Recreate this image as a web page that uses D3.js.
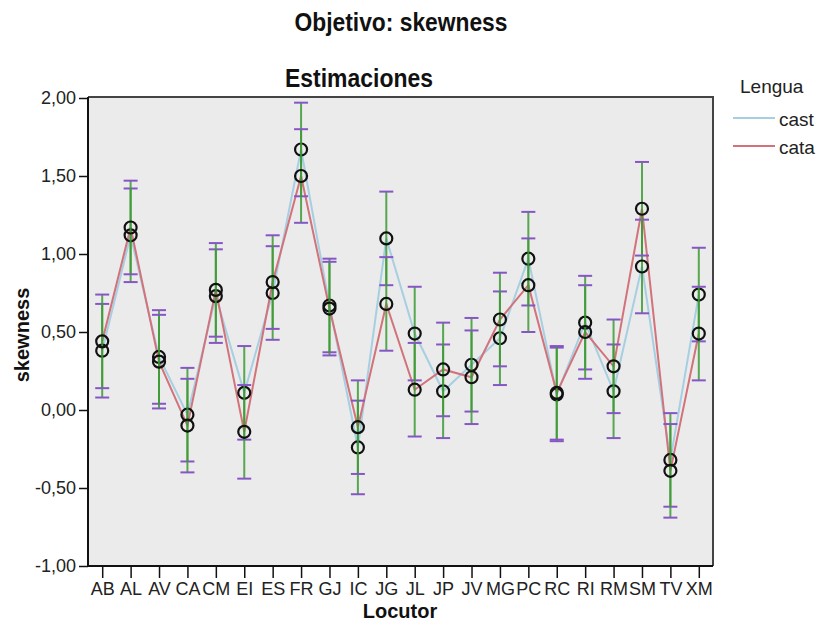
<!DOCTYPE html>
<html lang="es">
  <head>
    <meta charset="utf-8">
    <title>Objetivo: skewness</title>
    <script type="text/javascript" src="https://d3js.org/d3.v7.min.js"></script>
    <style>
      body {
        margin: 0;
        background: #ffffff;
        font-family: 'Liberation Sans', Arial, sans-serif;
      }
      .tick text {
        fill: #222222;
      }
      .bold-title {
        font-weight: bold;
        fill: #111111;
      }
    </style>
  </head>
  <body>
    <div id="chart"></div>
    <script type="text/javascript">

      // data
      var locutores = ['AB', 'AL', 'AV', 'CA', 'CM', 'EI', 'ES', 'FR', 'GJ', 'IC', 'JG',
                       'JL', 'JP', 'JV', 'MG', 'PC', 'RC', 'RI', 'RM', 'SM', 'TV', 'XM'];
      var castValues = [0.38, 1.12, 0.34, -0.03, 0.73, 0.11, 0.75, 1.67, 0.67, -0.24, 1.10,
                        0.49, 0.12, 0.29, 0.46, 0.97, 0.10, 0.56, 0.12, 0.92, -0.32, 0.74];
      var cataValues = [0.44, 1.17, 0.31, -0.10, 0.77, -0.14, 0.82, 1.50, 0.65, -0.11, 0.68,
                        0.13, 0.26, 0.21, 0.58, 0.80, 0.11, 0.50, 0.28, 1.29, -0.39, 0.49];
      var castError = [0.30, 0.30, 0.30, 0.30, 0.30, 0.30, 0.30, 0.30, 0.30, 0.30, 0.30,
                       0.30, 0.30, 0.30, 0.30, 0.30, 0.30, 0.30, 0.30, 0.30, 0.30, 0.30];
      var cataError = [0.30, 0.30, 0.30, 0.30, 0.30, 0.30, 0.30, 0.30, 0.30, 0.30, 0.30,
                       0.30, 0.30, 0.30, 0.30, 0.30, 0.30, 0.30, 0.30, 0.30, 0.30, 0.30];
      var yTicks = [-1, -0.5, 0, 0.5, 1, 1.5, 2];
      var seriesNames = ['cast', 'cata'];

      var w = 823;
      var h = 624;
      var plotLeft = 88, plotRight = 713, plotTop = 97, plotBottom = 566;

      var seriesColor = { cast: '#a6cfe2', cata: '#d2727a' };

      var svg = d3.select('#chart')
        .append('svg')
          .attr('width', w)
          .attr('height', h);

      // scales
      var x = d3.scalePoint()
        .domain(locutores)
        .range([plotLeft, plotRight])
        .padding(0.5);

      var y = d3.scaleLinear()
        .domain([-1, 2])
        .range([plotBottom, plotTop + 1]);

      var esLocale = d3.formatLocale({ decimal: ',', thousands: '.', grouping: [3], currency: ['', '€'], minus: '-' });
      var fmt = esLocale.format('.2f');

      // build series from the arrays
      var series = [
        { name: 'cast', rows: locutores.map(function(d, i) { return { loc: d, v: castValues[i], e: castError[i] }; }) },
        { name: 'cata', rows: locutores.map(function(d, i) { return { loc: d, v: cataValues[i], e: cataError[i] }; }) }
      ];

      // plot background
      svg.append('rect')
        .attr('x', plotLeft)
        .attr('y', plotTop)
        .attr('width', plotRight - plotLeft)
        .attr('height', plotBottom - plotTop)
        .attr('fill', '#ebebeb');

      // top + right frame
      svg.append('path')
        .attr('d', 'M' + plotLeft + ',' + plotTop + 'H' + plotRight + 'V' + plotBottom)
        .attr('fill', 'none')
        .attr('stroke', '#444444')
        .attr('stroke-width', 2);

      // connecting lines
      var line = d3.line()
        .x(function(d) { return x(d.loc); })
        .y(function(d) { return y(d.v); });

      svg.selectAll('.series-line')
        .data(series)
        .enter()
        .append('path')
          .attr('class', 'series-line')
          .attr('d', function(d) { return line(d.rows); })
          .attr('fill', 'none')
          .attr('stroke', function(d) { return seriesColor[d.name]; })
          .attr('stroke-width', 2);

      // error bars (green stems, purple caps)
      var bars = svg.selectAll('.err-group')
        .data(series)
        .enter()
        .append('g')
          .attr('class', 'err-group');

      bars.selectAll('.err-stem')
        .data(function(d) { return d.rows; })
        .enter()
        .append('line')
          .attr('class', 'err-stem')
          .attr('x1', function(d) { return x(d.loc); })
          .attr('x2', function(d) { return x(d.loc); })
          .attr('y1', function(d) { return y(d.v - d.e); })
          .attr('y2', function(d) { return y(d.v + d.e); })
          .attr('stroke', '#3d9a35')
          .attr('stroke-opacity', 0.85)
          .attr('stroke-width', 2);

      bars.selectAll('.err-cap')
        .data(function(d) {
          var caps = [];
          d.rows.forEach(function(r) {
            caps.push({ loc: r.loc, v: r.v + r.e });
            caps.push({ loc: r.loc, v: r.v - r.e });
          });
          return caps;
        })
        .enter()
        .append('line')
          .attr('class', 'err-cap')
          .attr('x1', function(d) { return x(d.loc) - 7; })
          .attr('x2', function(d) { return x(d.loc) + 7; })
          .attr('y1', function(d) { return y(d.v); })
          .attr('y2', function(d) { return y(d.v); })
          .attr('stroke', '#8656c6')
          .attr('stroke-width', 2);

      // markers
      bars.selectAll('.marker')
        .data(function(d) { return d.rows; })
        .enter()
        .append('circle')
          .attr('class', 'marker')
          .attr('cx', function(d) { return x(d.loc); })
          .attr('cy', function(d) { return y(d.v); })
          .attr('r', 6)
          .attr('fill', 'none')
          .attr('stroke', '#111111')
          .attr('stroke-width', 2.2);

      // axes
      var yAxis = svg.append('g')
        .attr('transform', 'translate(' + plotLeft + ',0)')
        .call(d3.axisLeft(y).tickValues(yTicks).tickFormat(fmt).tickSize(9).tickPadding(3));

      yAxis.selectAll('text')
        .style('font-size', '18px')
        .style('font-family', "'Liberation Sans', Arial, sans-serif");

      var xAxis = svg.append('g')
        .attr('transform', 'translate(0,' + plotBottom + ')')
        .call(d3.axisBottom(x).tickSize(12).tickPadding(4));

      xAxis.selectAll('text')
        .style('font-size', '18px')
        .style('font-family', "'Liberation Sans', Arial, sans-serif");

      [yAxis, xAxis].forEach(function(a) {
        a.select('.domain').attr('stroke', '#111111').attr('stroke-width', 2);
        a.selectAll('.tick line').attr('stroke', '#111111').attr('stroke-width', 1.5);
      });
      yAxis.select('.domain').attr('d', 'M0,' + plotTop + 'V' + plotBottom);
      xAxis.select('.domain').attr('d', 'M' + plotLeft + ',0H' + plotRight);

      // titles (slightly condensed, like the source)
      function squeezed(txt, cx, baseline, size, targetWidth) {
        var t = svg.append('text')
          .attr('class', 'bold-title')
          .attr('text-anchor', 'middle')
          .style('font-size', size + 'px')
          .text(txt);
        var sx = targetWidth / t.node().getComputedTextLength();
        t.attr('transform', 'translate(' + cx + ',' + baseline + ') scale(' + sx + ',1)');
        return t;
      }

      squeezed('Objetivo: skewness', 401, 31, 25, 213);
      squeezed('Estimaciones', 359, 87, 26, 148);

      svg.append('text')
        .attr('class', 'bold-title')
        .attr('text-anchor', 'middle')
        .attr('transform', 'translate(29,335) rotate(-90)')
        .style('font-size', '20px')
        .text('skewness');

      svg.append('text')
        .attr('class', 'bold-title')
        .attr('text-anchor', 'middle')
        .attr('x', 400)
        .attr('y', 618)
        .style('font-size', '20px')
        .text('Locutor');

      // legend
      var legend = svg.append('g')
        .attr('transform', 'translate(733,0)');

      legend.append('text')
        .attr('x', 7)
        .attr('y', 93)
        .style('font-size', '19px')
        .attr('fill', '#222222')
        .text('Lengua');

      var legendItems = legend.selectAll('.legend-item')
        .data(seriesNames)
        .enter()
        .append('g')
          .attr('class', 'legend-item')
          .attr('transform', function(d, i) { return 'translate(0,' + (118 + i * 28) + ')'; });

      legendItems.append('line')
        .attr('x1', 0)
        .attr('x2', 42)
        .attr('stroke', function(d) { return seriesColor[d]; })
        .attr('stroke-width', 2);

      legendItems.append('text')
        .attr('x', 46)
        .attr('y', 8)
        .style('font-size', '19px')
        .attr('fill', '#222222')
        .text(function(d) { return d; });

    </script>
  </body>
</html>
